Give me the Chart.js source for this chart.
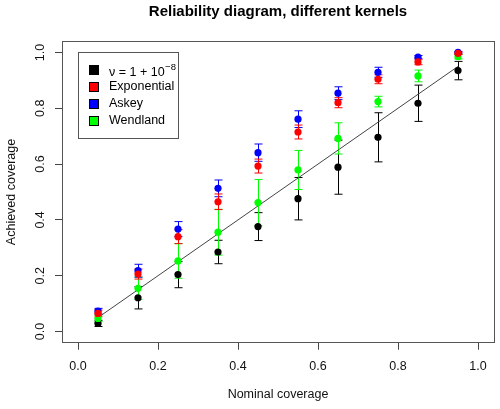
<!DOCTYPE html>
<html>
<head>
<meta charset="utf-8">
<script src="https://cdn.jsdelivr.net/npm/chart.js"></script>
<style>
  html, body { margin: 0; padding: 0; background: #ffffff; }
  #wrap { width: 500px; height: 409px; }
</style>
</head>
<body>
<div id="wrap"><canvas id="c" width="500" height="409"></canvas></div>
<script>
// ---- data ----
const nominal = [0.05, 0.15, 0.25, 0.35, 0.45, 0.55, 0.65, 0.75, 0.85, 0.95];

const nuVals  = [0.029, 0.121, 0.204, 0.285, 0.376, 0.476, 0.589, 0.696, 0.818, 0.935];
const nuErr   = [0.011, 0.040, 0.047, 0.042, 0.050, 0.076, 0.097, 0.088, 0.065, 0.033];

const expVals = [0.065, 0.206, 0.340, 0.465, 0.593, 0.715, 0.820, 0.904, 0.966, 0.997];
const expErr  = [0.012, 0.018, 0.025, 0.028, 0.025, 0.025, 0.018, 0.016, 0.010, 0.004];

const askVals = [0.073, 0.218, 0.367, 0.513, 0.641, 0.761, 0.854, 0.929, 0.983, 1.000];
const askErr  = [0.010, 0.023, 0.027, 0.030, 0.031, 0.030, 0.023, 0.018, 0.006, 0.003];

const wenVals = [0.047, 0.155, 0.253, 0.356, 0.462, 0.579, 0.692, 0.824, 0.916, 0.985];
const wenErr  = [0.012, 0.040, 0.062, 0.082, 0.083, 0.070, 0.056, 0.019, 0.021, 0.008];

const refLineX = [0.05, 0.95];
const refLineY = [0.05, 0.95];

const tickVals = [0.0, 0.2, 0.4, 0.6, 0.8, 1.0];

const legendLabels = ['ν = 1 + 10', 'Exponential', 'Askey', 'Wendland'];
const legendSup = '−8';
const titleText = 'Reliability diagram, different kernels';
const xTitle = 'Nominal coverage';
const yTitle = 'Achieved coverage';

// ---- styles ----
const FONT = "'Liberation Sans', Arial, Helvetica, sans-serif";
const series = [
  { vals: nuVals,  err: nuErr,  color: '#000000' },
  { vals: expVals, err: expErr, color: '#FF0000' },
  { vals: askVals, err: askErr, color: '#0000FF' },
  { vals: wenVals, err: wenErr, color: '#00FF00' }
];

function pts(ys) { return nominal.map((x, i) => ({ x: x, y: ys[i] })); }

const errorBars = {
  id: 'errorBars',
  beforeDatasetsDraw(chart) {
    const ctx = chart.ctx, xs = chart.scales.x, ys = chart.scales.y;
    ctx.save();
    ctx.lineWidth = 1;
    const order = [0, 3, 2, 1];
    order.forEach(si => {
      const s = series[si];
      ctx.strokeStyle = s.color;
      nominal.forEach((nx, i) => {
        const px = Math.round(xs.getPixelForValue(nx)) + 0.5;
        const lo = ys.getPixelForValue(s.vals[i] - s.err[i]);
        const hi = ys.getPixelForValue(s.vals[i] + s.err[i]);
        ctx.beginPath();
        ctx.moveTo(px, lo); ctx.lineTo(px, hi);
        ctx.moveTo(px - 4, lo); ctx.lineTo(px + 4, lo);
        ctx.moveTo(px - 4, hi); ctx.lineTo(px + 4, hi);
        ctx.stroke();
      });
    });
    ctx.restore();
  }
};

const frame = {
  id: 'frame',
  afterDraw(chart) {
    const ctx = chart.ctx, a = chart.chartArea;
    ctx.save();
    // plot box
    ctx.strokeStyle = '#555555';
    ctx.lineWidth = 1;
    ctx.strokeRect(Math.round(a.left) + 0.5, Math.round(a.top) + 0.5,
                   Math.round(a.right - a.left), Math.round(a.bottom - a.top));
    // main title
    ctx.fillStyle = '#000000';
    ctx.font = "bold 15px " + FONT;
    ctx.textAlign = 'center';
    ctx.textBaseline = 'alphabetic';
    ctx.fillText(titleText, (a.left + a.right) / 2, 15.5);
    // legend
    const bx = 78.5, by = 52.5, bw = 100, bh = 86;
    ctx.strokeStyle = '#555555';
    ctx.strokeRect(bx, by, bw, bh);
    const rows = [70, 87, 104, 121];
    const colors = ['#000000', '#FF0000', '#0000FF', '#00FF00'];
    ctx.textAlign = 'left';
    ctx.textBaseline = 'middle';
    rows.forEach((ry, i) => {
      ctx.fillStyle = colors[i];
      ctx.fillRect(89.5, ry - 4.5, 9, 9);
      ctx.strokeStyle = '#000000';
      ctx.strokeRect(89.5, ry - 4.5, 9, 9);
      ctx.fillStyle = '#000000';
      ctx.font = "12.5px " + FONT;
      const ty = i === 0 ? ry + 2.5 : ry;
      ctx.fillText(legendLabels[i], 109, ty);
      if (i === 0) {
        const w = ctx.measureText(legendLabels[i]).width;
        ctx.font = "9.5px " + FONT;
        ctx.fillText(legendSup, 109 + w + 0.5, ry - 3);
      }
    });
    ctx.restore();
  }
};

const setTicks = scale => { scale.ticks = tickVals.map(v => ({ value: v })); };

new Chart(document.getElementById('c'), {
  type: 'scatter',
  data: {
    datasets: [
      { label: 'Exponential', data: pts(expVals), backgroundColor: '#FF0000', borderWidth: 0, pointRadius: 3.6 },
      { label: 'Askey', data: pts(askVals), backgroundColor: '#0000FF', borderWidth: 0, pointRadius: 3.6 },
      { label: 'Wendland', data: pts(wenVals), backgroundColor: '#00FF00', borderWidth: 0, pointRadius: 3.6 },
      { label: 'nu', data: pts(nuVals), backgroundColor: '#000000', borderWidth: 0, pointRadius: 3.6 },
      { type: 'line', label: 'ref', data: refLineX.map((x, i) => ({ x: x, y: refLineY[i] })),
        borderColor: '#444444', borderWidth: 1, pointRadius: 0, fill: false }
    ]
  },
  options: {
    responsive: false,
    animation: false,
    devicePixelRatio: 1,
    layout: { padding: { top: 41.3, right: 6, left: 0, bottom: 0 } },
    plugins: { legend: { display: false }, tooltip: { enabled: false }, title: { display: false } },
    scales: {
      x: {
        type: 'linear', min: -0.04, max: 1.04,
        afterBuildTicks: setTicks,
        afterFit: s => { s.height = 66.3; },
        grid: { display: true, drawOnChartArea: false, drawTicks: true, tickLength: 7, color: '#444444' },
        border: { display: false },
        ticks: { autoSkip: false, padding: 9, color: '#111111', font: { family: FONT, size: 12.5 },
                 callback: v => v.toFixed(1) },
        title: { display: true, text: xTitle, color: '#111111', font: { family: FONT, size: 12.5 },
                 padding: { top: 0, bottom: 7 } }
      },
      y: {
        type: 'linear', min: -0.04, max: 1.04,
        afterBuildTicks: setTicks,
        afterFit: s => { s.width = 62; },
        grid: { display: true, drawOnChartArea: false, drawTicks: true, tickLength: 7, color: '#444444' },
        border: { display: false },
        ticks: { autoSkip: false, padding: 5.5, minRotation: 90, maxRotation: 90, crossAlign: 'center',
                 color: '#111111', font: { family: FONT, size: 12.5 },
                 callback: v => v.toFixed(1) },
        title: { display: true, text: yTitle, color: '#111111', font: { family: FONT, size: 12.5 },
                 padding: { top: 4, bottom: 0 } }
      }
    }
  },
  plugins: [errorBars, frame]
});
</script>
</body>
</html>
